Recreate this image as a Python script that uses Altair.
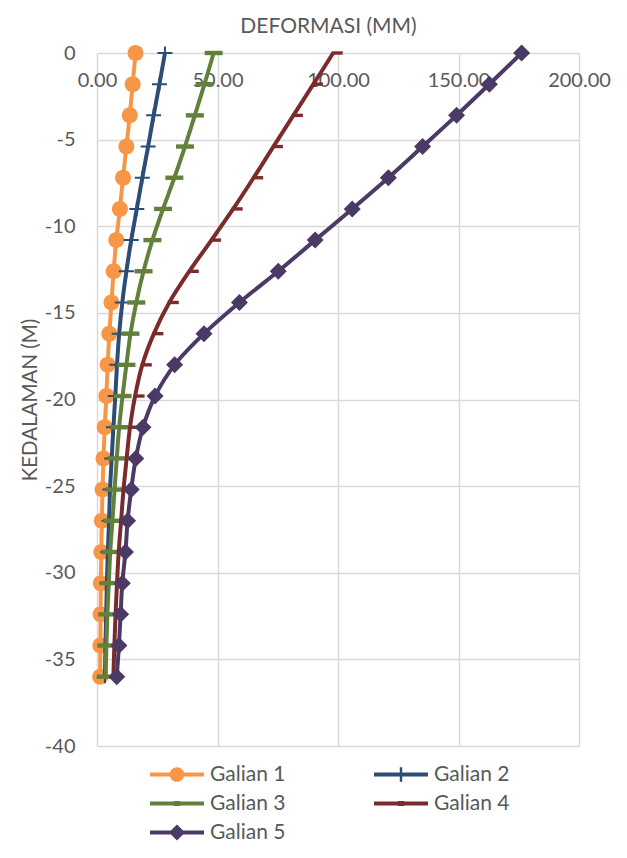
import altair as alt
import pandas as pd

depth = [0, -1.8, -3.6, -5.4, -7.2, -9.0, -10.8, -12.6, -14.4, -16.2, -18.0,
         -19.8, -21.6, -23.4, -25.2, -27.0, -28.8, -30.6, -32.4, -34.2, -36.0]
series = ["Galian 1", "Galian 2", "Galian 3", "Galian 4", "Galian 5"]
galian1 = [16.0, 14.8, 13.6, 12.2, 10.8, 9.5, 8.0, 6.9, 6.0, 5.1, 4.4, 3.9, 3.2, 2.7, 2.3, 2.0, 1.8, 1.6, 1.5, 1.4, 1.3]
galian2 = [28.2, 25.9, 23.5, 21.2, 18.8, 16.5, 14.2, 12.2, 10.5, 9.2, 8.3, 7.6, 6.8, 6.1, 5.4, 5.0, 4.5, 4.1, 3.8, 3.5, 3.3]
galian3 = [48.4, 44.6, 40.6, 36.5, 32.1, 27.4, 23.0, 19.3, 16.3, 13.9, 12.2, 10.6, 9.2, 8.2, 7.3, 6.4, 5.5, 4.9, 4.3, 3.9, 3.6]
galian4 = [98.0, 89.8, 81.5, 73.2, 65.0, 56.5, 47.5, 38.3, 30.0, 23.6, 18.8, 15.8, 13.7, 12.3, 11.0, 10.0, 9.0, 8.3, 7.7, 7.2, 6.8]
galian5 = [176.2, 162.8, 149.2, 135.1, 120.9, 105.9, 90.5, 75.2, 59.1, 44.4, 32.2, 24.1, 19.1, 16.1, 14.2, 12.7, 11.8, 10.5, 9.8, 9.1, 8.2]
x_ticks = [0, 50, 100, 150, 200]
y_ticks = [0, -5, -10, -15, -20, -25, -30, -35, -40]
colors = ["#F79646", "#2C4D75", "#62803A", "#7B2B2B", "#4B3A66"]

# marker shapes (unit box -1..1)
marker_paths = [
    "M0.8,0A0.8,0.8 0 1,1 -0.8,0A0.8,0.8 0 1,1 0.8,0Z",
    "M-0.75,-0.1H0.75V0.1H-0.75Z M-0.1,-0.65H0.1V0.65H-0.1Z",
    "M-0.9,-0.22H0.9V0.22H-0.9Z",
    "M-0.15,-0.17H0.95V0.17H-0.15Z",
    "M0,-0.85L0.85,0L0,0.85L-0.85,0Z",
]
line_part = "M-1,-0.075H1V0.075H-1Z "
legend_paths = [
    line_part + "M0.27,0A0.27,0.27 0 1,1 -0.27,0A0.27,0.27 0 1,1 0.27,0Z",
    line_part + "M-0.045,-0.27H0.045V0.27H-0.045Z",
    line_part + "M-0.12,-0.09H0.12V0.09H-0.12Z",
    line_part + "M-0.12,-0.09H0.12V0.09H-0.12Z",
    line_part + "M0,-0.3L0.3,0L0,0.3L-0.3,0Z",
]

rows = []
for name, vals in zip(series, [galian1, galian2, galian3, galian4, galian5]):
    for i, (d, v) in enumerate(zip(depth, vals)):
        rows.append({"series": name, "depth": d, "def": v, "idx": i})
df = pd.DataFrame(rows)

FONT = "Lato"
GREY = "#595959"

x_enc = alt.X("def:Q", scale=alt.Scale(domain=[0, 200], nice=False),
              axis=alt.Axis(orient="top", values=x_ticks, format=".2f", labelPadding=-37,
                            labelFlush=False, labelOverlap=False, title="DEFORMASI (MM)",
                            titleX=231, titleAlign="center",
                            titleY=-27, titleBaseline="middle", titleFontSize=21))
y_enc = alt.Y("depth:Q", scale=alt.Scale(domain=[-40, 0], nice=False),
              axis=alt.Axis(values=y_ticks, labelExpr="'' + datum.value", labelPadding=22,
                            title="KEDALAMAN (M)", titlePadding=4, titleFontSize=20.5))

base = alt.Chart(df)
layers = []
for s, path, c in zip(series, marker_paths, colors):
    sub = base.transform_filter(alt.datum.series == s)
    layers.append(sub.mark_line(strokeWidth=4, interpolate="catmull-rom", color=c).encode(
        x=x_enc, y=y_enc, order="idx:Q"))
    layers.append(sub.mark_point(filled=True, size=400, opacity=1, shape=path, color=c).encode(
        x=x_enc, y=y_enc))

leg = alt.Legend(title=None, orient="none", legendX=53, legendY=708, columns=2,
                 direction="horizontal",
                 symbolSize=2916, labelFont=FONT, labelFontSize=21, labelColor=GREY,
                 columnPadding=88, rowPadding=2, clipHeight=27, symbolStrokeWidth=0,
                 symbolOpacity=1, labelOffset=6)
legend_layer = base.transform_filter("false").mark_point(filled=True, opacity=1).encode(
    x=x_enc, y=y_enc,
    color=alt.Color("series:N", scale=alt.Scale(domain=series, range=colors), legend=leg),
    shape=alt.Shape("series:N", scale=alt.Scale(domain=series, range=legend_paths), legend=leg))
layers.append(legend_layer)

chart = alt.layer(*layers).properties(
    width=482, height=693,
    padding={"left": 12, "top": 7, "right": 5, "bottom": 5},
    background="white",
).configure_view(stroke="transparent").configure_axis(
    labelFont=FONT, titleFont=FONT, labelFontSize=20, labelColor=GREY, titleColor=GREY,
    titleFontWeight="normal", gridColor="#D9D9D9", gridWidth=1.5, domain=False, ticks=False,
)

chart.save("out.html", embed_options={"renderer": "svg", "actions": False})
